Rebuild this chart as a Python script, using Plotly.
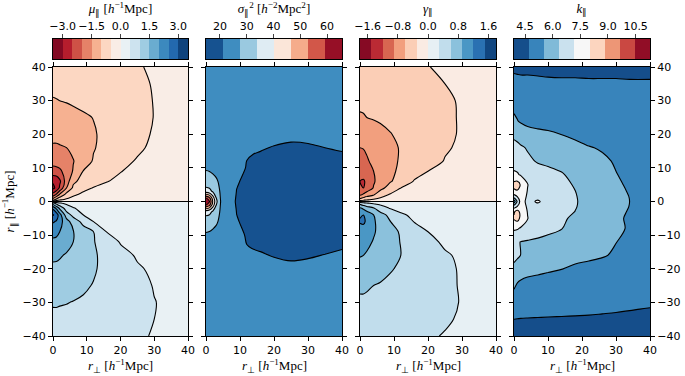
import plotly.graph_objects as go

# sample points (h^-1 Mpc) of the tabulated fields
rperp_a = [0, 1, 2, 4, 6, 9, 12, 16, 20, 25, 30, 35, 40]
rpar_a = [-40, -35, -30, -25, -20, -16, -12, -9, -6, -4, -2, -0.5,
          0.5, 2, 4, 6, 9, 12, 16, 20, 25, 30, 35, 40]

mu_par = [
    [0.85, 0.85, 0.85, 0.84, 0.83, 0.80, 0.76, 0.70, 0.63, 0.56, 0.47, 0.40, 0.35],
    [0.93, 0.93, 0.93, 0.92, 0.90, 0.86, 0.81, 0.74, 0.67, 0.58, 0.50, 0.43, 0.37],
    [1.03, 1.03, 1.02, 1.01, 0.99, 0.95, 0.89, 0.80, 0.71, 0.61, 0.51, 0.43, 0.37],
    [1.18, 1.18, 1.17, 1.15, 1.12, 1.06, 0.98, 0.86, 0.75, 0.62, 0.48, 0.41, 0.35],
    [1.42, 1.42, 1.40, 1.36, 1.30, 1.19, 1.05, 0.86, 0.72, 0.54, 0.44, 0.37, 0.32],
    [1.58, 1.57, 1.54, 1.46, 1.37, 1.22, 1.06, 0.85, 0.63, 0.46, 0.38, 0.33, 0.29],
    [1.88, 1.86, 1.80, 1.66, 1.50, 1.25, 1.03, 0.72, 0.47, 0.38, 0.33, 0.30, 0.27],
    [2.20, 2.15, 2.00, 1.75, 1.52, 1.22, 1.00, 0.48, 0.40, 0.35, 0.31, 0.28, 0.26],
    [2.55, 2.45, 2.20, 1.70, 1.28, 0.85, 0.50, 0.40, 0.36, 0.33, 0.30, 0.27, 0.25],
    [3.05, 2.80, 2.20, 1.25, 0.85, 0.50, 0.42, 0.37, 0.34, 0.31, 0.29, 0.27, 0.25],
    [2.40, 1.90, 1.40, 0.75, 0.52, 0.42, 0.37, 0.34, 0.32, 0.30, 0.28, 0.26, 0.25],
    [1.20, 0.80, 0.55, 0.42, 0.38, 0.35, 0.33, 0.31, 0.30, 0.28, 0.27, 0.26, 0.25],
    [-1.20, -0.80, -0.55, -0.42, -0.38, -0.35, -0.33, -0.31, -0.30, -0.28, -0.27, -0.26, -0.25],
    [-2.30, -1.90, -1.40, -0.80, -0.55, -0.42, -0.38, -0.35, -0.33, -0.31, -0.29, -0.27, -0.25],
    [-3.10, -2.90, -2.40, -1.50, -0.90, -0.60, -0.48, -0.42, -0.38, -0.34, -0.31, -0.28, -0.26],
    [-2.95, -2.90, -2.60, -1.75, -1.10, -0.82, -0.65, -0.51, -0.44, -0.38, -0.33, -0.30, -0.27],
    [-2.18, -2.15, -2.08, -1.82, -1.46, -0.98, -0.78, -0.62, -0.51, -0.42, -0.35, -0.31, -0.28],
    [-1.83, -1.82, -1.79, -1.68, -1.52, -1.22, -0.96, -0.76, -0.60, -0.47, -0.38, -0.33, -0.29],
    [-1.56, -1.56, -1.54, -1.50, -1.40, -1.22, -1.03, -0.85, -0.72, -0.56, -0.43, -0.36, -0.31],
    [-1.38, -1.38, -1.36, -1.33, -1.27, -1.17, -1.04, -0.88, -0.76, -0.62, -0.46, -0.38, -0.32],
    [-1.15, -1.15, -1.14, -1.13, -1.10, -1.05, -0.99, -0.88, -0.77, -0.64, -0.49, -0.41, -0.35],
    [-1.02, -1.01, -1.00, -0.98, -0.95, -0.90, -0.84, -0.76, -0.67, -0.58, -0.49, -0.42, -0.36],
    [-0.92, -0.92, -0.91, -0.90, -0.88, -0.84, -0.79, -0.72, -0.64, -0.56, -0.48, -0.41, -0.36],
    [-0.83, -0.83, -0.83, -0.82, -0.81, -0.78, -0.74, -0.68, -0.61, -0.53, -0.45, -0.39, -0.34],
]

gamma_par = [
    [0.44, 0.44, 0.44, 0.43, 0.42, 0.40, 0.38, 0.35, 0.32, 0.29, 0.25, 0.22, 0.20],
    [0.49, 0.49, 0.49, 0.48, 0.47, 0.45, 0.42, 0.39, 0.36, 0.32, 0.28, 0.24, 0.21],
    [0.56, 0.56, 0.55, 0.54, 0.52, 0.49, 0.46, 0.42, 0.38, 0.34, 0.29, 0.25, 0.22],
    [0.64, 0.64, 0.63, 0.60, 0.58, 0.54, 0.50, 0.45, 0.40, 0.35, 0.28, 0.24, 0.21],
    [0.78, 0.78, 0.76, 0.72, 0.68, 0.62, 0.56, 0.47, 0.41, 0.34, 0.28, 0.24, 0.21],
    [0.92, 0.90, 0.87, 0.81, 0.75, 0.67, 0.60, 0.48, 0.40, 0.32, 0.27, 0.23, 0.20],
    [1.03, 1.01, 0.97, 0.88, 0.79, 0.69, 0.59, 0.45, 0.35, 0.27, 0.24, 0.22, 0.20],
    [1.10, 1.09, 1.05, 0.93, 0.82, 0.69, 0.57, 0.42, 0.30, 0.25, 0.23, 0.21, 0.19],
    [1.22, 1.24, 1.16, 0.94, 0.78, 0.60, 0.46, 0.29, 0.24, 0.22, 0.21, 0.20, 0.19],
    [1.18, 1.20, 1.08, 0.90, 0.72, 0.50, 0.33, 0.26, 0.23, 0.21, 0.20, 0.19, 0.18],
    [0.95, 0.85, 0.75, 0.62, 0.42, 0.28, 0.24, 0.22, 0.21, 0.20, 0.19, 0.18, 0.17],
    [0.50, 0.40, 0.33, 0.26, 0.23, 0.21, 0.20, 0.19, 0.18, 0.18, 0.17, 0.17, 0.16],
    [-0.50, -0.40, -0.33, -0.26, -0.23, -0.21, -0.20, -0.19, -0.18, -0.18, -0.17, -0.17, -0.16],
    [-0.95, -0.85, -0.75, -0.62, -0.40, -0.27, -0.24, -0.22, -0.21, -0.20, -0.19, -0.18, -0.17],
    [-1.18, -1.20, -1.08, -0.88, -0.70, -0.45, -0.30, -0.25, -0.23, -0.21, -0.20, -0.19, -0.18],
    [-1.20, -1.23, -1.15, -0.93, -0.78, -0.62, -0.47, -0.28, -0.24, -0.22, -0.21, -0.20, -0.19],
    [-1.10, -1.08, -1.02, -0.90, -0.78, -0.66, -0.54, -0.40, -0.30, -0.25, -0.23, -0.21, -0.19],
    [-1.00, -0.98, -0.93, -0.84, -0.76, -0.67, -0.57, -0.46, -0.38, -0.29, -0.25, -0.22, -0.20],
    [-0.90, -0.89, -0.86, -0.80, -0.74, -0.66, -0.58, -0.47, -0.39, -0.32, -0.27, -0.23, -0.20],
    [-0.75, -0.75, -0.74, -0.71, -0.67, -0.61, -0.54, -0.46, -0.40, -0.34, -0.28, -0.24, -0.21],
    [-0.63, -0.62, -0.60, -0.58, -0.56, -0.52, -0.48, -0.43, -0.39, -0.34, -0.28, -0.24, -0.21],
    [-0.54, -0.54, -0.54, -0.53, -0.51, -0.48, -0.45, -0.41, -0.37, -0.33, -0.28, -0.24, -0.21],
    [-0.48, -0.48, -0.48, -0.47, -0.46, -0.44, -0.41, -0.38, -0.34, -0.30, -0.26, -0.23, -0.20],
    [-0.43, -0.43, -0.43, -0.42, -0.41, -0.39, -0.37, -0.34, -0.305, -0.27, -0.24, -0.21, -0.19],
]

rperp_s = [0, 1, 2, 3, 4, 6, 9, 12, 16, 20, 25, 30, 35, 40]
rpar_s = [-40, -30, -22, -18, -14, -10, -6, -3, -1, 0, 1, 3, 6, 10, 14, 18, 22, 30, 40]

sigma2_par = [
    [24.2, 24.2, 24.2, 24.2, 24.2, 24.2, 24.1, 24.0, 23.9, 23.8, 23.8, 23.8, 23.8, 23.8],
    [24.3, 24.3, 24.3, 24.3, 24.3, 24.2, 24.1, 23.9, 23.7, 23.5, 23.4, 23.4, 23.4, 23.5],
    [24.6, 24.6, 24.6, 24.6, 24.5, 24.4, 24.0, 23.5, 23.0, 22.6, 22.4, 22.4, 22.5, 22.7],
    [25.0, 25.0, 25.0, 24.9, 24.8, 24.5, 23.8, 22.9, 22.0, 21.4, 21.2, 21.3, 21.5, 21.8],
    [25.5, 25.5, 25.4, 25.3, 25.1, 24.6, 23.2, 21.3, 20.9, 20.7, 20.6, 20.7, 20.9, 21.1],
    [27.0, 26.9, 26.6, 26.2, 25.8, 24.6, 22.4, 20.8, 20.4, 20.2, 20.1, 20.1, 20.2, 20.4],
    [29.5, 29.2, 28.6, 28.0, 27.0, 23.8, 21.3, 20.7, 20.1, 19.8, 19.7, 19.7, 19.8, 20.0],
    [37.0, 36.0, 33.0, 30.0, 27.6, 23.6, 21.1, 20.4, 19.9, 19.6, 19.5, 19.5, 19.6, 19.8],
    [60.0, 55.0, 44.0, 34.0, 28.0, 23.5, 20.9, 20.2, 19.8, 19.5, 19.4, 19.4, 19.5, 19.7],
    [66.0, 60.0, 46.0, 36.0, 28.2, 23.5, 20.8, 20.2, 19.8, 19.5, 19.4, 19.4, 19.5, 19.7],
    [60.0, 55.0, 44.0, 34.0, 28.0, 23.5, 20.9, 20.2, 19.8, 19.5, 19.4, 19.4, 19.5, 19.7],
    [37.0, 36.0, 33.0, 30.0, 27.6, 23.6, 21.1, 20.4, 19.9, 19.6, 19.5, 19.5, 19.6, 19.8],
    [29.5, 29.2, 28.6, 28.0, 27.0, 24.0, 21.35, 20.7, 20.1, 19.8, 19.7, 19.7, 19.8, 20.0],
    [27.0, 26.9, 26.6, 26.2, 25.8, 24.8, 22.8, 20.9, 20.5, 20.2, 20.1, 20.1, 20.2, 20.4],
    [25.5, 25.5, 25.4, 25.3, 25.1, 24.6, 23.4, 21.35, 20.9, 20.7, 20.6, 20.7, 20.8, 21.0],
    [25.0, 25.0, 25.0, 24.9, 24.8, 24.5, 23.8, 22.9, 22.0, 21.4, 21.2, 21.25, 21.5, 21.7],
    [24.6, 24.6, 24.6, 24.6, 24.5, 24.4, 24.0, 23.5, 23.0, 22.6, 22.4, 22.4, 22.5, 22.7],
    [24.3, 24.3, 24.3, 24.3, 24.3, 24.2, 24.1, 23.9, 23.7, 23.5, 23.4, 23.4, 23.4, 23.5],
    [24.2, 24.2, 24.2, 24.2, 24.2, 24.2, 24.1, 24.0, 23.9, 23.8, 23.8, 23.8, 23.8, 23.8],
]

rperp_k = [0, 1, 2, 4, 7, 10, 14, 18, 22, 26, 30, 34, 40]
rpar_k = [-40, -35, -32, -28, -24, -20, -16, -12, -8, -5, -3, -1.5, 0,
          1.5, 3, 5, 8, 12, 16, 20, 24, 28, 32, 36, 40]

k_par = [
    [4.40, 4.40, 4.40, 4.40, 4.40, 4.40, 4.40, 4.40, 4.40, 4.40, 4.40, 4.40, 4.40],
    [4.72, 4.71, 4.70, 4.69, 4.68, 4.67, 4.66, 4.65, 4.64, 4.63, 4.62, 4.61, 4.60],
    [5.00, 4.98, 4.96, 4.94, 4.92, 4.90, 4.88, 4.86, 4.84, 4.80, 4.77, 4.74, 4.70],
    [5.40, 5.35, 5.30, 5.25, 5.20, 5.15, 5.10, 5.05, 5.00, 4.98, 4.95, 4.93, 4.90],
    [5.70, 5.55, 5.45, 5.35, 5.30, 5.25, 5.20, 5.15, 5.10, 5.05, 5.00, 4.98, 4.95],
    [6.20, 6.10, 6.00, 5.85, 5.75, 5.65, 5.56, 5.40, 5.32, 5.25, 5.20, 5.15, 5.00],
    [6.55, 6.45, 6.35, 6.20, 6.10, 6.00, 5.90, 5.80, 5.70, 5.60, 5.45, 5.35, 5.15],
    [6.50, 6.40, 6.35, 6.30, 6.25, 6.15, 6.05, 5.90, 5.78, 5.65, 5.55, 5.43, 5.20],
    [7.30, 7.25, 7.10, 6.85, 6.65, 6.55, 6.38, 6.10, 5.90, 5.74, 5.62, 5.50, 5.20],
    [8.10, 8.30, 7.80, 7.20, 6.85, 6.70, 6.45, 6.25, 6.00, 5.80, 5.63, 5.47, 5.25],
    [7.90, 8.30, 7.70, 7.15, 6.95, 6.85, 6.60, 6.35, 6.05, 5.85, 5.68, 5.50, 5.28],
    [6.80, 7.20, 7.50, 7.10, 7.00, 6.90, 6.68, 6.40, 6.10, 5.88, 5.70, 5.53, 5.30],
    [5.00, 6.50, 7.50, 7.00, 7.25, 6.95, 6.70, 6.42, 6.10, 5.90, 5.72, 5.54, 5.30],
    [6.80, 7.20, 7.50, 7.10, 7.00, 6.90, 6.68, 6.40, 6.10, 5.88, 5.70, 5.53, 5.30],
    [7.80, 7.90, 7.60, 7.15, 6.95, 6.85, 6.62, 6.37, 6.05, 5.85, 5.68, 5.50, 5.28],
    [8.30, 8.40, 7.90, 7.20, 6.85, 6.75, 6.55, 6.30, 6.00, 5.80, 5.64, 5.45, 5.25],
    [7.30, 7.25, 7.10, 6.90, 6.70, 6.60, 6.42, 6.15, 5.92, 5.73, 5.56, 5.40, 5.20],
    [6.90, 6.85, 6.70, 6.50, 6.30, 6.20, 6.10, 5.95, 5.80, 5.65, 5.48, 5.35, 5.15],
    [6.60, 6.55, 6.45, 6.30, 6.15, 6.05, 5.95, 5.80, 5.58, 5.48, 5.40, 5.30, 5.12],
    [6.20, 6.10, 6.00, 5.80, 5.70, 5.65, 5.53, 5.35, 5.25, 5.20, 5.15, 5.10, 5.00],
    [5.70, 5.56, 5.45, 5.35, 5.30, 5.25, 5.20, 5.15, 5.10, 5.05, 5.00, 4.98, 4.95],
    [5.40, 5.35, 5.30, 5.25, 5.20, 5.15, 5.10, 5.05, 5.00, 4.98, 4.95, 4.92, 4.90],
    [5.20, 5.15, 5.10, 5.05, 5.00, 4.98, 4.95, 4.92, 4.90, 4.88, 4.86, 4.84, 4.82],
    [4.85, 4.82, 4.80, 4.80, 4.78, 4.76, 4.75, 4.75, 4.74, 4.74, 4.74, 4.73, 4.73],
    [4.60, 4.60, 4.60, 4.60, 4.60, 4.60, 4.60, 4.60, 4.60, 4.60, 4.60, 4.60, 4.60],
]

# contour level edges (outermost = colorbar ends)
mu_levels = [-3.5, -3.0, -2.5, -2.0, -1.5, -1.0, -0.5, 0.0, 0.5, 1.0, 1.5, 2.0, 2.5, 3.0, 3.5]
sigma2_levels = [14.8, 21.15, 27.5, 33.85, 40.2, 46.55, 52.9, 59.25, 65.6]
gamma_levels = [-1.8, -1.5, -1.2, -0.9, -0.6, -0.3, 0.0, 0.3, 0.6, 0.9, 1.2, 1.5, 1.8]
k_levels = [3.9, 4.72, 5.54, 6.36, 7.18, 8.0, 8.82, 9.64, 10.46, 11.28]

mu_ticks = [-3.0, -1.5, 0.0, 1.5, 3.0]
sigma2_ticks = [20, 30, 40, 50, 60]
gamma_ticks = [-1.6, -0.8, 0.0, 0.8, 1.6]
k_ticks = [4.5, 6.0, 7.5, 9.0, 10.5]

RDBU = ['#67001f', '#b2182b', '#d6604d', '#f4a582', '#fddbc7', '#f7f7f7',
        '#d1e5f0', '#92c5de', '#4393c3', '#2166ac', '#053061']


def rdbu(frac):
    pos = frac * (len(RDBU) - 1)
    i = min(int(pos), len(RDBU) - 2)
    t = pos - i
    a = [int(RDBU[i][j:j + 2], 16) for j in (1, 3, 5)]
    b = [int(RDBU[i + 1][j:j + 2], 16) for j in (1, 3, 5)]
    c = [round(a[n] + (b[n] - a[n]) * t) for n in range(3)]
    return 'rgb(%d,%d,%d)' % tuple(c)


def band_colors(n, reverse=False):
    cols = [rdbu((k + 0.5) / n) for k in range(n)]
    return cols[::-1] if reverse else cols


def scale(cols):
    n = len(cols)
    return [[k / (n - 1), c] for k, c in enumerate(cols)]


SERIF = "Liberation Serif"
unit = "[<i>h</i><sup>−1</sup>Mpc]"
panels = [
    (rperp_a, rpar_a, mu_par, mu_levels, mu_ticks, False, '.1f',
     "<i>μ</i><sub>∥</sub> " + unit),
    (rperp_s, rpar_s, sigma2_par, sigma2_levels, sigma2_ticks, True, 'd',
     "<i>σ</i><sub>∥</sub><sup>2</sup> [<i>h</i><sup>−2</sup>Mpc<sup>2</sup>]"),
    (rperp_a, rpar_a, gamma_par, gamma_levels, gamma_ticks, False, '.1f',
     "<i>γ</i><sub>∥</sub>"),
    (rperp_k, rpar_k, k_par, k_levels, k_ticks, True, '.1f',
     "<i>k</i><sub>∥</sub>"),
]

W, H = 685, 376
xpix = [(53, 188), (206, 342), (360, 496), (514, 650)]
ydom = [1 - 336 / H, 1 - 67 / H]
cbdom = [1 - 59 / H, 1 - 39 / H]

fig = go.Figure()
layout = {}
notes = []
for i, (xs, ys, zs, lev, ticks, rev, fmt, title) in enumerate(panels):
    n = len(lev) - 1
    cols = band_colors(n, rev)
    step = lev[1] - lev[0]
    xa, ya = 'x%d' % (i + 1), 'y%d' % (i + 1)
    xc, yc = 'x%d' % (i + 5), 'y%d' % (i + 5)
    dom = [xpix[i][0] / W, xpix[i][1] / W]

    fig.add_trace(go.Contour(
        x=xs, y=ys, z=zs, xaxis=xa, yaxis=ya,
        colorscale=scale(cols), showscale=False, autocontour=False,
        contours=dict(start=lev[1], end=lev[-2] + step * 0.01, size=step,
                      coloring='fill', showlines=True),
        line=dict(color='black', width=1.1, smoothing=1.0),
        hoverinfo='skip'))

    # colour bar drawn as a one-row heatmap on its own axis
    fig.add_trace(go.Heatmap(
        x=lev, y=[0, 1], z=[list(range(n))], xaxis=xc, yaxis=yc,
        colorscale=scale(cols), zmin=0, zmax=n - 1, showscale=False,
        hoverinfo='skip'))

    axis_common = dict(showline=True, linecolor='black', linewidth=1, mirror='allticks',
                       ticks='outside', ticklen=4, tickcolor='black', automargin=False,
                       showgrid=True, gridcolor='rgba(150,150,150,0.3)', gridwidth=1,
                       zeroline=False, layer='above traces')
    k = '' if i == 0 else str(i + 1)
    layout['xaxis' + k] = dict(
        axis_common, domain=dom, anchor=ya, range=[0, 40], tickvals=[0, 10, 20, 30, 40])
    notes.append(dict(text="<i>r</i><sub>⊥</sub> " + unit, xref='paper', yref='paper',
                      x=sum(dom) / 2, y=1 - 366 / H, xanchor='center', yanchor='middle',
                      showarrow=False, font=dict(family=SERIF, size=13)))
    yax = dict(axis_common, domain=ydom, anchor=xa, range=[-40, 40],
               tickvals=[-40, -30, -20, -10, 0, 10, 20, 30, 40])
    if i == 3:
        yax['side'] = 'right'
    elif i > 0:
        yax['showticklabels'] = False
    layout['yaxis' + k] = yax

    layout['xaxis%d' % (i + 5)] = dict(
        domain=dom, anchor=yc, side='top', range=[lev[0], lev[-1]],
        tickvals=ticks, tickformat=fmt, tickangle=0, ticks='outside', ticklen=4,
        showline=True, linecolor='black', mirror=True, showgrid=False,
        zeroline=False, automargin=False,
        title=dict(text=title, font=dict(family=SERIF, size=13), standoff=3))
    layout['yaxis%d' % (i + 5)] = dict(
        domain=cbdom, anchor=xc, range=[0, 1], showticklabels=False, ticks='',
        showline=True, linecolor='black', mirror=True, showgrid=False, zeroline=False,
        automargin=False)

notes.append(dict(text="<i>r</i><sub>∥</sub> " + unit, xref='paper', yref='paper',
                  x=10 / W, y=sum(ydom) / 2, xanchor='center', yanchor='middle',
                  textangle=-90, showarrow=False, font=dict(family=SERIF, size=13)))

fig.update_layout(
    width=W, height=H, margin=dict(l=0, r=0, t=0, b=0, autoexpand=False),
    paper_bgcolor='white', plot_bgcolor='white', showlegend=False,
    font=dict(family="DejaVu Sans", size=11, color='black'),
    annotations=notes, **layout)

fig.write_html("out.html", config={'displayModeBar': False},
               post_script="document.body.style.margin = '0';")
